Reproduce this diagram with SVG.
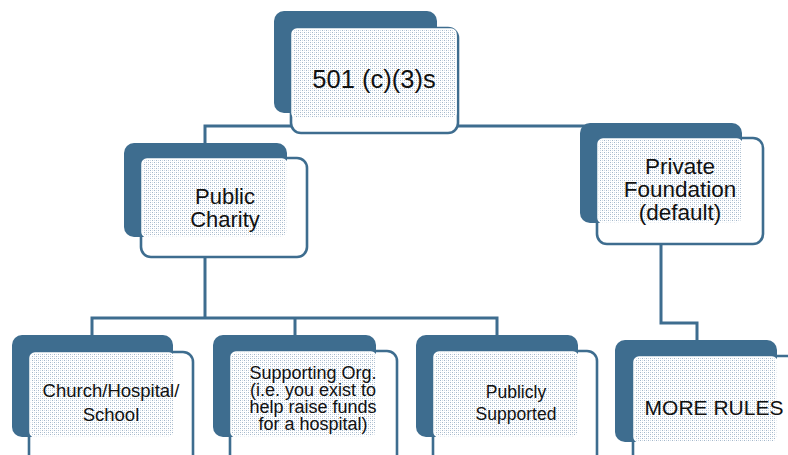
<svg xmlns="http://www.w3.org/2000/svg" width="788" height="455" viewBox="0 0 788 455">
  <defs>
    <pattern id="dots" width="4" height="4" patternUnits="userSpaceOnUse">
      <rect width="4" height="4" fill="#ffffff"/>
      <rect x="0" y="0" width="1" height="1" fill="#a3b7ca"/>
      <rect x="2" y="2" width="1" height="1" fill="#a3b7ca"/>
      <rect x="2" y="0" width="1" height="1" fill="#d2dce6"/>
      <rect x="0" y="2" width="1" height="1" fill="#d2dce6"/>
    </pattern>
  </defs>
  <style>
    .front { fill: #ffffff; stroke: #3e6d8f; stroke-width: 2.6; }
    .back { fill: #3e6d8f; }
    .area { fill: url(#dots); stroke: #ffffff; stroke-width: 1.5; }
    .wire { fill: none; stroke: #3e6d8f; stroke-width: 3; }
    text { font-family: "Liberation Sans", Arial, sans-serif; fill: #111111; text-anchor: middle; }
  </style>

  <rect width="788" height="455" fill="#ffffff"/>

  <!-- connectors -->
  <g id="connectors">
    <path class="wire" d="M205,143 V126 H661 V138"/>
    <path class="wire" d="M205,257 V318"/>
    <path class="wire" d="M92,335 V318 H497 V335"/>
    <path class="wire" d="M295,318 V335"/>
    <path class="wire" d="M661,243 V323 H697 V340"/>
  </g>

  <!-- 501(c)(3) root -->
  <g id="root">
    <rect class="front" x="291" y="28" width="167" height="105" rx="10"/>
    <rect class="back" x="274" y="11" width="163" height="102" rx="10"/>
    <rect class="area" x="292" y="29" width="164" height="89" rx="5"/>
    <text x="374" y="88" font-size="25.5">501 (c)(3)s</text>
  </g>

  <!-- Public Charity -->
  <g id="public-charity">
    <rect class="front" x="141" y="158" width="166" height="99" rx="10"/>
    <rect class="back" x="124" y="143" width="163" height="94" rx="10"/>
    <rect class="area" x="142" y="159" width="145" height="78" rx="5"/>
    <text x="225" y="204" font-size="22">Public</text>
    <text x="225" y="227" font-size="22">Charity</text>
  </g>

  <!-- Private Foundation -->
  <g id="private-foundation">
    <rect class="front" x="597" y="138" width="166" height="106" rx="10"/>
    <rect class="back" x="580" y="123" width="162" height="100" rx="10"/>
    <rect class="area" x="598" y="139" width="144" height="84" rx="5"/>
    <text x="680" y="174" font-size="22.5">Private</text>
    <text x="680" y="197" font-size="22.5">Foundation</text>
    <text x="680" y="220" font-size="22.5">(default)</text>
  </g>

  <!-- Church/Hospital/School -->
  <g id="church">
    <rect class="front" x="29" y="352" width="164" height="115" rx="10"/>
    <rect class="back" x="12" y="335" width="161" height="102" rx="10"/>
    <rect class="area" x="30" y="353" width="144" height="84" rx="5"/>
    <text x="111" y="397" font-size="18.5">Church/Hospital/</text>
    <text x="111" y="421" font-size="18.5">School</text>
  </g>

  <!-- Supporting Org. -->
  <g id="supporting">
    <rect class="front" x="230" y="351" width="167" height="115" rx="10"/>
    <rect class="back" x="213" y="335" width="163" height="102" rx="10"/>
    <rect class="area" x="231" y="352" width="145" height="85" rx="5"/>
    <text x="313" y="379" font-size="18">Supporting Org.</text>
    <text x="313" y="396" font-size="18">(i.e. you exist to</text>
    <text x="313" y="413" font-size="18">help raise funds</text>
    <text x="313" y="430" font-size="18">for a hospital)</text>
  </g>

  <!-- Publicly Supported -->
  <g id="publicly-supported">
    <rect class="front" x="433" y="351" width="164" height="115" rx="10"/>
    <rect class="back" x="416" y="335" width="162" height="102" rx="10"/>
    <rect class="area" x="434" y="352" width="144" height="85" rx="5"/>
    <text x="516" y="398" font-size="17.5">Publicly</text>
    <text x="516" y="420" font-size="17.5">Supported</text>
  </g>

  <!-- MORE RULES -->
  <g id="more-rules">
    <rect class="front" x="633" y="356" width="170" height="115" rx="10"/>
    <rect class="back" x="615" y="340" width="162" height="102" rx="10"/>
    <rect class="area" x="634" y="357" width="143" height="85" rx="5"/>
    <text x="714" y="415" font-size="21">MORE RULES</text>
  </g>
</svg>
